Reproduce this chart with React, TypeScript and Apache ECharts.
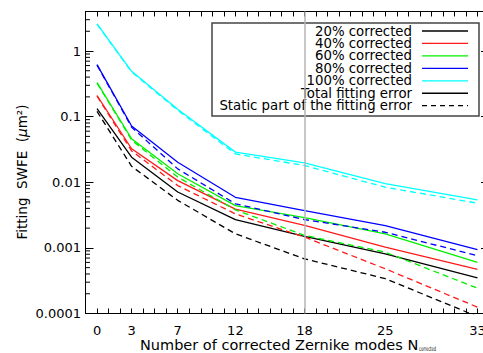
import React, { useEffect, useRef } from 'react';
import * as echarts from 'echarts';

// ---- data ----
const xModes = [0, 3, 7, 12, 18, 25, 33];
const xTickLabels = ['0', '3', '7', '12', '18', '25', '33'];
const yTickValues = [0.0001, 0.001, 0.01, 0.1, 1];
const yTickLabels = ['0.0001', '0.001', '0.01', '0.1', '1'];

const seriesNames = ['20% corrected', '40% corrected', '60% corrected', '80% corrected', '100% corrected'];
const seriesColors = ['#000000', '#ff1a1a', '#00f000', '#0000ff', '#00ffff'];

const total20 = [0.132, 0.0241, 0.0071, 0.0027, 0.0015, 0.00081, 0.00035];
const static20 = [0.12, 0.0175, 0.0053, 0.00164, 0.00068, 0.00034, 0.00009];
const total40 = [0.21, 0.0324, 0.0106, 0.0039, 0.0022, 0.00103, 0.00047];
const static40 = [0.205, 0.030, 0.0089, 0.0033, 0.00146, 0.00048, 0.000125];
const total60 = [0.33, 0.046, 0.0135, 0.0044, 0.0029, 0.00164, 0.0006];
const static60 = [0.325, 0.044, 0.012, 0.0038, 0.00155, 0.00086, 0.000243];
const total80 = [0.62, 0.072, 0.0202, 0.0059, 0.0037, 0.00219, 0.00094];
const static80 = [0.61, 0.069, 0.016, 0.0047, 0.0027, 0.00173, 0.00076];
const total100 = [2.6, 0.49, 0.13, 0.0288, 0.0198, 0.0095, 0.0054];
const static100 = [2.55, 0.48, 0.125, 0.027, 0.018, 0.0084, 0.0048];

const totals = [total20, total40, total60, total80, total100];
const statics = [static20, static40, static60, static80, static100];

const refModes = 18;
const refLevel = 0.0037;

const legendExtra = ['Total fitting error', 'Static part of the fitting error'];

const FONT = '"DejaVu Sans", sans-serif';

export default function App() {
  const ref = useRef<HTMLDivElement>(null);

  useEffect(() => {
    if (!ref.current) return;
    const chart = echarts.init(ref.current, undefined, { renderer: 'svg' });

    const minorVals: number[] = [];
    for (let e = -4; e <= 0; e++) {
      for (let m = 2; m <= 9; m++) {
        const v = m * Math.pow(10, e);
        if (v < 4) minorVals.push(v);
      }
    }

    const dash = [6, 4];
    const series: any[] = [];
    for (let i = 0; i < 5; i++) {
      series.push({
        type: 'line',
        name: seriesNames[i],
        data: xModes.map((x, j) => [x, totals[i][j]]),
        symbol: 'none',
        lineStyle: { color: seriesColors[i], width: 1.3 },
        itemStyle: { color: seriesColors[i] },
        z: 3,
      });
      series.push({
        type: 'line',
        name: seriesNames[i] + ' static',
        data: xModes.map((x, j) => [x, statics[i][j]]),
        symbol: 'none',
        lineStyle: { color: seriesColors[i], width: 1.3, type: dash },
        itemStyle: { color: seriesColors[i] },
        z: 3,
      });
    }
    // reference lines
    series.push({
      type: 'line',
      data: [],
      markLine: {
        silent: true,
        symbol: ['none', 'none'],
        label: { show: false },
        lineStyle: { color: '#b4b4b4', width: 1.5, type: 'solid' },
        data: [{ xAxis: refModes }, { yAxis: refLevel }],
        z: 4,
      },
    });
    // minor log ticks on left and right frames
    series.push({
      type: 'custom',
      coordinateSystem: 'cartesian2d',
      clip: false,
      silent: true,
      data: minorVals.map((v) => [-1, v]),
      encode: { x: 0, y: 1 },
      renderItem: (params: any, api: any) => {
        const pt = api.coord([-1, api.value(1)]);
        const cs = params.coordSys;
        return {
          type: 'group',
          children: [
            { type: 'line', shape: { x1: cs.x, y1: pt[1], x2: cs.x + 4.5, y2: pt[1] }, style: { stroke: '#000', lineWidth: 1 } },
            { type: 'line', shape: { x1: cs.x + cs.width - 4.5, y1: pt[1], x2: cs.x + cs.width, y2: pt[1] }, style: { stroke: '#000', lineWidth: 1 } },
          ],
        };
      },
    });

    const xFmt = (v: number) => {
      const r = Math.round(v);
      if (Math.abs(v - r) > 1e-6) return '';
      const k = xModes.indexOf(r);
      return k >= 0 ? xTickLabels[k] : '';
    };
    const yFmt = (v: number) => {
      for (let k = 0; k < yTickValues.length; k++) {
        if (Math.abs(Math.log10(v) - Math.log10(yTickValues[k])) < 1e-6) return yTickLabels[k];
      }
      return '';
    };

    const axisLine = { show: true, onZero: false, lineStyle: { color: '#000', width: 1 } };

    const legendRows = [...seriesNames, ...legendExtra];
    const legendColors = [...seriesColors, '#000000', '#000000'];
    const legendGraphics: any[] = [
      {
        type: 'rect',
        shape: { x: 212, y: 23, width: 267, height: 93 },
        style: { fill: 'none', stroke: '#444', lineWidth: 1.5 },
      },
    ];
    legendRows.forEach((name, i) => {
      const y = 31 + i * 12.45;
      legendGraphics.push({
        type: 'text',
        x: 412,
        y,
        style: {
          text: name,
          fill: '#000',
          fontFamily: FONT,
          fontSize: 13.3,
          lineHeight: 12,
          align: 'right',
          verticalAlign: 'middle',
          textAlign: 'right',
          textVerticalAlign: 'middle',
        },
      });
      legendGraphics.push({
        type: 'line',
        shape: { x1: 422, y1: y, x2: 468, y2: y },
        style: { stroke: legendColors[i], lineWidth: 1.3, lineDash: i === 6 ? [5, 4] : null },
      });
    });

    chart.setOption({
      animation: false,
      backgroundColor: '#fff',
      grid: { left: 85.5, right: -6, top: 11.5, bottom: 39.5, containLabel: false, outerBoundsMode: 'none' },
      xAxis: [
        {
          type: 'value', min: -1, max: 34, interval: 1, position: 'bottom',
          axisLine,
          axisTick: { show: true, inside: true, length: 5, lineStyle: { color: '#000' } },
          axisLabel: { formatter: xFmt, margin: 10, color: '#000', fontFamily: FONT, fontSize: 13, hideOverlap: false },
          splitLine: { show: false },
        },
        {
          type: 'value', min: -1, max: 34, interval: 1, position: 'top',
          axisLine,
          axisTick: { show: true, inside: true, length: 5, lineStyle: { color: '#000' } },
          axisLabel: { show: false },
          splitLine: { show: false },
        },
      ],
      yAxis: [
        {
          type: 'log', logBase: 10, min: 0.0001, max: 4, position: 'left',
          axisLine,
          axisTick: { show: true, inside: true, length: 8, lineStyle: { color: '#000' } },
          axisLabel: { formatter: yFmt, margin: 4.5, color: '#000', fontFamily: FONT, fontSize: 13, hideOverlap: false },
          splitLine: { show: false },
        },
        {
          type: 'log', logBase: 10, min: 0.0001, max: 4, position: 'right',
          axisLine,
          axisTick: { show: true, inside: true, length: 8, lineStyle: { color: '#000' } },
          axisLabel: { show: false },
          splitLine: { show: false },
        },
      ],
      series,
      graphic: [
        ...legendGraphics,
        {
          type: 'text',
          x: 22,
          y: 172,
          rotation: Math.PI / 2,
          style: {
            text: '{a|Fitting  SWFE  (}{i|μ}{a|m²)}',
            rich: {
              a: { fontFamily: FONT, fontSize: 13.5, fill: '#000' },
              i: { fontFamily: FONT, fontSize: 13.5, fontStyle: 'italic', fill: '#000' },
            },
            align: 'center',
            verticalAlign: 'middle',
            textAlign: 'center',
            textVerticalAlign: 'middle',
          },
        },
        {
          type: 'text',
          x: 140,
          y: 345,
          style: {
            text: 'Number of corrected Zernike modes N',
            fontFamily: FONT,
            fontSize: 14.5,
            fill: '#000',
            align: 'left',
            verticalAlign: 'middle',
            textAlign: 'left',
            textVerticalAlign: 'middle',
          },
        },
        {
          type: 'text',
          x: 419,
          y: 348.5,
          scaleX: 0.55,
          style: {
            text: 'corrected',
            fontFamily: FONT,
            fontSize: 6.5,
            fill: '#000',
            align: 'left',
            verticalAlign: 'middle',
            textAlign: 'left',
            textVerticalAlign: 'middle',
          },
        },
      ],
    });

    return () => chart.dispose();
  }, []);

  return (
    <div
      ref={ref}
      style={{ position: 'fixed', left: 0, top: 0, width: 483, height: 353, background: '#fff' }}
    />
  );
}
